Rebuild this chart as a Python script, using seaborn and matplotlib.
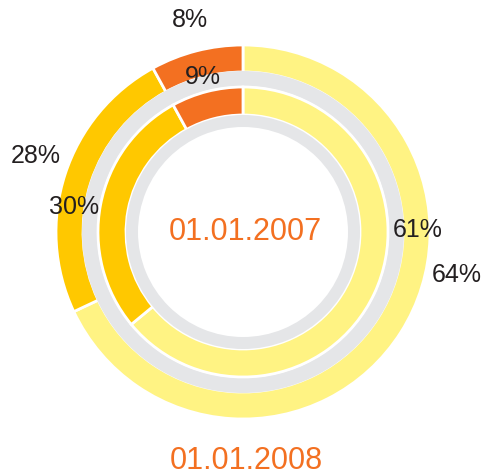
import matplotlib
matplotlib.use("Agg")
import matplotlib.pyplot as plt
import seaborn as sns

# data
segments = ["light", "gold", "orange"]
# slice shares as they are drawn in the picture (arc angles)
shares_2008 = [68, 24, 8]
shares_2007 = [64, 28, 8]
# percentages as they are printed
labels_2008 = ["64%", "28%", "8%"]
labels_2007 = ["61%", "30%", "9%"]
date_outer = "01.01.2008"
date_inner = "01.01.2007"

sns.set_style("white")
plt.rcParams['font.family'] = ['Liberation Sans', 'DejaVu Sans']

palette = sns.color_palette(["#FFF383", "#FFC800", "#F37021"])
gray = "#E5E6E8"
orange = "#F37021"
dark = "#231F20"

fig = plt.figure(figsize=(4.86, 4.75), dpi=100)
ax = fig.add_axes([0, 0, 1, 1])

wp = dict(edgecolor="white", linewidth=2)

# outer ring (2008)
ax.pie(shares_2008, radius=187, colors=palette, startangle=90, counterclock=False,
       wedgeprops=dict(width=27, **wp))
# gray separator ring
ax.pie([1], radius=161, colors=[gray], wedgeprops=dict(width=15, linewidth=0))
# inner ring (2007)
ax.pie(shares_2007, radius=145, colors=palette, startangle=90, counterclock=False,
       wedgeprops=dict(width=28, **wp))
# inner gray ring
ax.pie([1], radius=117, colors=[gray], wedgeprops=dict(width=12, linewidth=0))

# percent labels
pos_2008 = [(214, -43), (-207, 76), (-53, 212)]
pos_2007 = [(175, 2), (-169, 25), (-40, 155)]
for s, (x, y) in zip(labels_2008, pos_2008):
    ax.text(x, y, s, ha="center", va="center", fontsize=18, color=dark)
for s, (x, y) in zip(labels_2007, pos_2007):
    ax.text(x, y, s, ha="center", va="center", fontsize=18, color=dark)

ax.text(2, 0, date_inner, ha="center", va="center", fontsize=22, color=orange)
ax.text(3, -229, date_outer, ha="center", va="center", fontsize=22, color=orange)

ax.set_xlim(-243, 243)
ax.set_ylim(-243, 232)
ax.set_aspect("equal")
ax.axis("off")

fig.savefig("out.png", dpi=100)
